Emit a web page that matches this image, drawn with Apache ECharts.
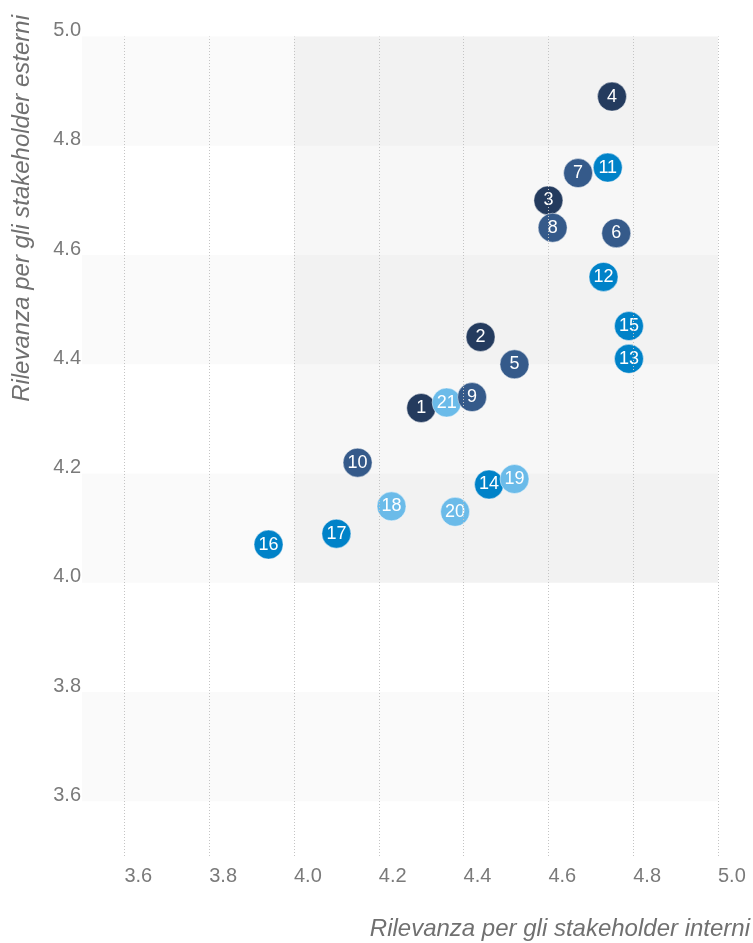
<!DOCTYPE html>
<html>
<head>
<meta charset="utf-8">
<script src="https://cdn.jsdelivr.net/npm/echarts@6/dist/echarts.min.js"></script>
<style>
html, body { margin: 0; padding: 0; background: #fff; }
#chart { width: 753px; height: 943px; }
</style>
</head>
<body>
<div id="chart"></div>
<script>
// temi materiali: id, rilevanza interna (x), rilevanza esterna (y)
var navyIds = [1, 2, 3, 4],
	navyX = [4.30, 4.44, 4.60, 4.75],
	navyY = [4.32, 4.45, 4.70, 4.89];

var slateIds = [5, 6, 7, 8, 9, 10],
	slateX = [4.52, 4.76, 4.67, 4.61, 4.42, 4.15],
	slateY = [4.40, 4.64, 4.75, 4.65, 4.34, 4.22];

var blueIds = [11, 12, 13, 14, 15, 16, 17],
	blueX = [4.74, 4.73, 4.79, 4.46, 4.79, 3.94, 4.10],
	blueY = [4.76, 4.56, 4.41, 4.18, 4.47, 4.07, 4.09];

var lightIds = [18, 19, 20, 21],
	lightX = [4.23, 4.52, 4.38, 4.36],
	lightY = [4.14, 4.19, 4.13, 4.33];

var axisMin = 3.5, axisMax = 5.0;
var xGridTicks = [3.6, 3.8, 4.0, 4.2, 4.4, 4.6, 4.8, 5.0];
var focusArea = [4.0, 5.0];	// quadrante evidenziato

var fontFam = '"Liberation Sans", Arial, sans-serif';

function pts(ids, xs, ys) {
	var out = [];
	for (var i = 0; i < ids.length; i++)
		out.push({ value: [xs[i], ys[i]], name: String(ids[i]) });
	return out;
}

function serie(name, color, ids, xs, ys) {
	return {
		name: name,
		type: 'scatter',
		symbol: 'circle',
		symbolSize: 29,
		itemStyle: { color: color, opacity: 1, borderColor: 'rgba(255,255,255,0.45)', borderWidth: 1 },
		label: {
			show: true,
			position: 'inside',
			formatter: '{b}',
			color: '#fff',
			fontSize: 18,
			fontFamily: fontFam
		},
		data: pts(ids, xs, ys)
	};
}

var navy = serie('g1', '#243b5e', navyIds, navyX, navyY);
navy.markArea = {
	silent: true,
	itemStyle: { color: 'rgba(0,0,0,0.03)' },
	data: [[{ xAxis: focusArea[0], yAxis: focusArea[0] }, { xAxis: focusArea[1], yAxis: focusArea[1] }]]
};
// griglia verticale tratteggiata
navy.markLine = {
	silent: true,
	symbol: 'none',
	label: { show: false },
	lineStyle: { color: '#c4c4c4', type: [1, 2], width: 1 },
	data: xGridTicks.map(function (v) { return { xAxis: v }; })
};

var myChart = echarts.init(document.getElementById('chart'));
var option = {
	animation: false,
	grid: { left: 82, right: 35, top: 36.5, bottom: 87 },
	xAxis: {
		type: 'value',
		min: axisMin,
		max: axisMax,
		splitNumber: 7,
		axisLine: { show: false },
		axisTick: { show: false },
		axisLabel: {
			showMinLabel: false,
			align: 'left',
			margin: 10,
			color: '#7a7a7a',
			fontSize: 20,
			fontFamily: fontFam,
			formatter: function (v) { return v.toFixed(1); }
		},
		splitLine: { show: false }
	},
	yAxis: {
		type: 'value',
		min: axisMin,
		max: axisMax,
		splitNumber: 7,
		axisLine: { show: false },
		axisTick: { show: false },
		axisLabel: {
			showMinLabel: false,
			verticalAlign: 'bottom',
			lineHeight: 12,
			margin: 1,
			color: '#7a7a7a',
			fontSize: 20,
			fontFamily: fontFam,
			formatter: function (v) { return v.toFixed(1); }
		},
		splitLine: { show: false },
		splitArea: { show: true, areaStyle: { color: ['#ffffff', '#fafafa'] } }
	},
	graphic: [
		{
			type: 'text',
			x: 22, y: 15,
			rotation: Math.PI / 2,
			style: {
				text: 'Rilevanza per gli stakeholder esterni',
				fill: '#707070',
				font: 'italic 24px ' + fontFam,
				align: 'right',
				verticalAlign: 'middle'
			}
		},
		{
			type: 'text',
			x: 750, y: 929,
			style: {
				text: 'Rilevanza per gli stakeholder interni',
				fill: '#707070',
				font: 'italic 24px ' + fontFam,
				align: 'right',
				verticalAlign: 'middle'
			}
		}
	],
	series: [
		navy,
		serie('g3', '#0082c8', blueIds, blueX, blueY),
		serie('g4', '#6bbbe9', lightIds, lightX, lightY),
		serie('g2', '#355a8a', slateIds, slateX, slateY)
	]
};
myChart.setOption(option);
</script>
</body>
</html>
